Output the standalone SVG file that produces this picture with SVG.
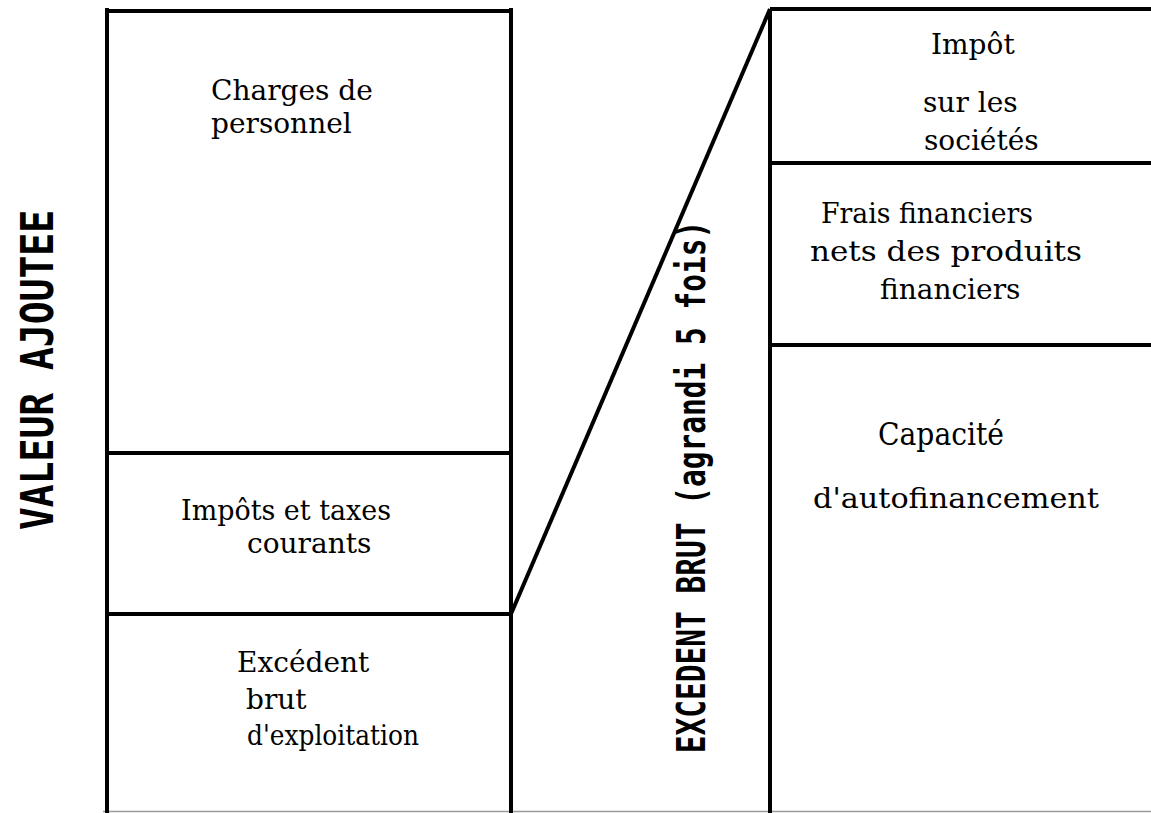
<svg xmlns="http://www.w3.org/2000/svg" width="1151" height="813" viewBox="0 0 1151 813">
  <style>
    .rule { stroke: #000; stroke-width: 4; fill: none; }
    .base { stroke: #9a9a9a; stroke-width: 1.5; fill: none; }
    .lbl { font-family: "DejaVu Serif", "Liberation Serif", serif; font-size: 28px; fill: #000; }
    .big { font-size: 31px; }
    .mono { font-family: "DejaVu Sans Mono", "Liberation Mono", monospace; font-weight: bold; fill: #000; text-anchor: middle; }
  </style>
  <rect width="1151" height="813" fill="#fff"/>

  <!-- thin base line along the bottom -->
  <line class="base" x1="103" y1="811.5" x2="1151" y2="811.5"/>

  <!-- left column: value added -->
  <g id="valeur-ajoutee">
    <line class="rule" x1="107" y1="8" x2="107" y2="813"/>
    <line class="rule" x1="511" y1="8" x2="511" y2="813"/>
    <line class="rule" x1="107" y1="11" x2="511" y2="11"/>
    <text class="mono" font-size="38" transform="translate(53,370) rotate(-90) scale(1,1.19)">VALEUR AJOUTEE</text>
  </g>

  <g id="charges-personnel">
    <text class="lbl" x="211" y="100">Charges de</text>
    <text class="lbl" x="211" y="133">personnel</text>
  </g>

  <g id="impots-taxes">
    <line class="rule" x1="107" y1="453" x2="511" y2="453"/>
    <text class="lbl" x="181" y="520" textLength="210" lengthAdjust="spacingAndGlyphs">Impôts et taxes</text>
    <text class="lbl" x="247" y="553">courants</text>
  </g>

  <g id="excedent-brut">
    <line class="rule" x1="107" y1="614" x2="511" y2="614"/>
    <text class="lbl" x="237" y="672">Excédent</text>
    <text class="lbl" x="246" y="709">brut</text>
    <text class="lbl" x="247" y="745" textLength="172" lengthAdjust="spacingAndGlyphs">d'exploitation</text>
  </g>

  <!-- right column: gross operating surplus, enlarged -->
  <g id="ebe-agrandi">
    <line class="rule" x1="770" y1="9" x2="770" y2="813"/>
    <line class="rule" x1="770" y1="9" x2="1151" y2="9"/>
    <text class="mono" font-size="29.5" transform="translate(705,487) rotate(-90) scale(1,1.35)">EXCEDENT BRUT (agrandi 5 fois)</text>
  </g>

  <g id="impot-societes">
    <text class="lbl" x="931" y="54">Impôt</text>
    <text class="lbl" x="923" y="112">sur les</text>
    <text class="lbl" x="924" y="150">sociétés</text>
  </g>

  <g id="frais-financiers">
    <line class="rule" x1="770" y1="163" x2="1151" y2="163"/>
    <text class="lbl" x="821" y="223" textLength="212" lengthAdjust="spacingAndGlyphs">Frais financiers</text>
    <text class="lbl" x="810" y="261" textLength="272" lengthAdjust="spacingAndGlyphs">nets des produits</text>
    <text class="lbl" x="880" y="299">financiers</text>
  </g>

  <g id="capacite-autofinancement">
    <line class="rule" x1="770" y1="345" x2="1151" y2="345"/>
    <text class="lbl big" x="878" y="445" textLength="126" lengthAdjust="spacingAndGlyphs">Capacité</text>
    <text class="lbl" x="813" y="508" textLength="286" lengthAdjust="spacingAndGlyphs">d'autofinancement</text>
  </g>

  <!-- connector: surplus slice expanded into the right column -->
  <g id="connectors">
    <line class="rule" x1="511" y1="614" x2="770" y2="9"/>
  </g>
</svg>
